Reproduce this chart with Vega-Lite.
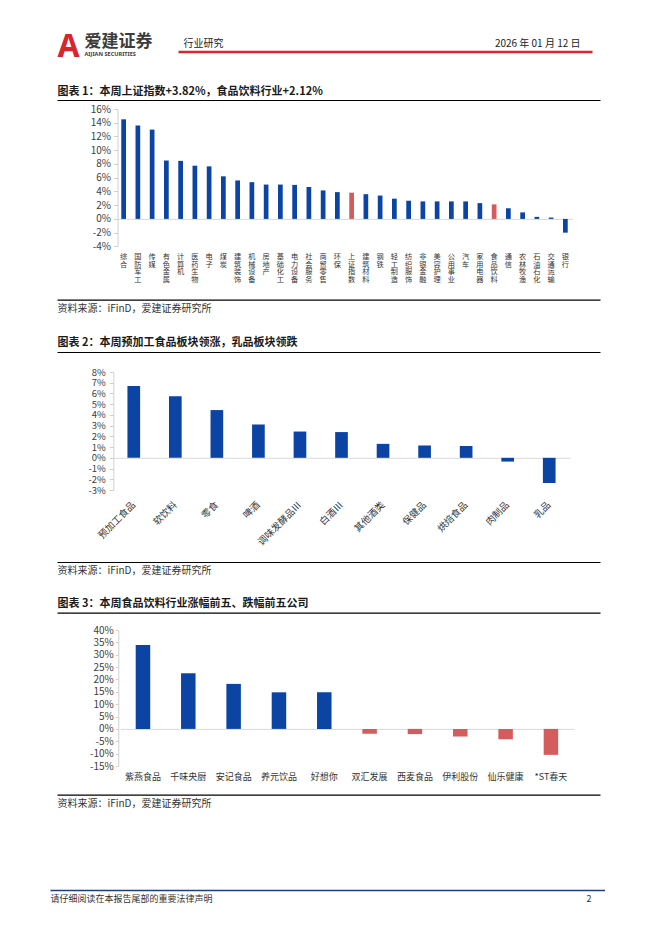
{
  "$schema": "https://vega.github.io/schema/vega-lite/v6.json",
  "background": "white",
  "padding": {"left": 50, "top": 0, "right": 0, "bottom": 0},
  "bounds": "flush",
  "spacing": 0,
  "config": {
    "view": {"stroke": null},
    "font": "Noto Sans CJK SC",
    "axis": {"labelFont": "Noto Sans CJK SC", "titleFont": "Noto Sans CJK SC", "grid": false, "titleLimit": 1000},
    "axisQuantitative": {"labelOverlap": false}
  },
  "datasets": {
    "industries": [
      {"name": "综合", "value": 14.5},
      {"name": "国防军工", "value": 13.6},
      {"name": "传媒", "value": 13.0},
      {"name": "有色金属", "value": 8.5},
      {"name": "计算机", "value": 8.45},
      {"name": "医药生物", "value": 7.75},
      {"name": "电子", "value": 7.65},
      {"name": "煤炭", "value": 6.2},
      {"name": "建筑装饰", "value": 5.6},
      {"name": "机械设备", "value": 5.35},
      {"name": "房地产", "value": 5.0},
      {"name": "基础化工", "value": 5.0},
      {"name": "电力设备", "value": 4.95},
      {"name": "社会服务", "value": 4.65},
      {"name": "商贸零售", "value": 4.15},
      {"name": "环保", "value": 3.9},
      {"name": "上证指数", "value": 3.82},
      {"name": "建筑材料", "value": 3.6},
      {"name": "钢铁", "value": 3.4},
      {"name": "轻工制造", "value": 2.95},
      {"name": "纺织服饰", "value": 2.65},
      {"name": "非银金融", "value": 2.55},
      {"name": "美容护理", "value": 2.55},
      {"name": "公用事业", "value": 2.55},
      {"name": "汽车", "value": 2.55},
      {"name": "家用电器", "value": 2.3},
      {"name": "食品饮料", "value": 2.12},
      {"name": "通信", "value": 1.55},
      {"name": "农林牧渔", "value": 0.95},
      {"name": "石油石化", "value": 0.3},
      {"name": "交通运输", "value": 0.2},
      {"name": "银行", "value": -2.0}
    ],
    "sectors": [
      {"name": "预加工食品", "value": 6.7},
      {"name": "软饮料", "value": 5.75},
      {"name": "零食", "value": 4.45},
      {"name": "啤酒", "value": 3.1},
      {"name": "调味发酵品Ⅲ", "value": 2.45},
      {"name": "白酒Ⅲ", "value": 2.4},
      {"name": "其他酒类", "value": 1.3},
      {"name": "保健品", "value": 1.15},
      {"name": "烘焙食品", "value": 1.1},
      {"name": "肉制品", "value": -0.35},
      {"name": "乳品", "value": -2.35}
    ],
    "companies": [
      {"name": "紫燕食品", "value": 33.9},
      {"name": "千味央厨", "value": 22.5},
      {"name": "安记食品", "value": 18.2},
      {"name": "养元饮品", "value": 14.8},
      {"name": "好想你", "value": 14.8},
      {"name": "双汇发展", "value": -2.0},
      {"name": "西麦食品", "value": -2.1},
      {"name": "伊利股份", "value": -3.1},
      {"name": "仙乐健康", "value": -4.2},
      {"name": "*ST春天", "value": -10.5}
    ]
  },
  "vconcat": [
    {"width": 1, "height": 28, "data": {"values": []}, "mark": "point"},
    {
      "width": 555, "height": 23.5,
      "data": {"values": [{}]},
      "resolve": {"axis": {"x": "independent", "y": "independent"}},
      "layer": [
        {"mark": {"type": "point", "opacity": 0},
         "encoding": {
           "x": {"datum": 0.5, "type": "quantitative", "scale": {"domain": [0, 1], "range": [128, 542]},
                 "axis": {"orient": "bottom", "domainColor": "#d9262c", "domainWidth": 2.5, "labels": false, "ticks": false, "minExtent": 0,
                          "title": "行业研究", "titleX": 133, "titleY": -5, "titleAlign": "left", "titleBaseline": "alphabetic", "titleFontSize": 10, "titleFontWeight": "normal", "titleColor": "#222222"}},
           "y": {"datum": 0, "type": "quantitative",
                 "axis": {"orient": "left", "domain": false, "labels": false, "ticks": false, "minExtent": 0,
                          "title": "2026 年 01 月 12 日", "titleAngle": 0, "titleX": 530, "titleY": 18.5, "titleAlign": "right", "titleBaseline": "alphabetic", "titleFontSize": 10, "titleFontWeight": "normal", "titleColor": "#222222"}}
         }},
        {"mark": {"type": "point", "opacity": 0},
         "encoding": {
           "x": {"datum": 0.5, "type": "quantitative",
                 "axis": {"orient": "top", "domain": false, "labels": false, "ticks": false, "minExtent": 0,
                          "title": "A", "titleX": 7, "titleY": 28, "titleAlign": "left", "titleBaseline": "alphabetic", "titleFontSize": 32, "titleFontWeight": "bold", "titleColor": "#d9262c", "titleFont": "Noto Sans"}},
           "y": {"datum": 0, "type": "quantitative",
                 "axis": {"orient": "right", "domain": false, "labels": false, "ticks": false, "minExtent": 0,
                          "title": "爱建证券", "titleAngle": 0, "titleX": -521, "titleY": 18.3, "titleAlign": "left", "titleBaseline": "alphabetic", "titleFontSize": 17, "titleFontWeight": "bold", "titleColor": "#3c3c3c"}}
         }},
        {"mark": {"type": "point", "opacity": 0},
         "encoding": {
           "x": {"datum": 0.5, "type": "quantitative", "axis": null},
           "y": {"datum": 0, "type": "quantitative",
                 "axis": {"orient": "left", "domain": false, "labels": false, "ticks": false, "minExtent": 0,
                          "title": "AIJIAN SECURITIES", "titleAngle": 0, "titleX": 34, "titleY": 27.5, "titleAlign": "left", "titleBaseline": "alphabetic", "titleFontSize": 5.6, "titleFontWeight": "bold", "titleColor": "#3c3c3c", "titleFont": "Noto Sans"}}
         }}
      ]
    },
    {"width": 1, "height": 56.8, "data": {"values": []}, "mark": "point"},
    {
      "width": 555, "height": 137.4,
      "data": {"name": "industries"},
      "resolve": {"scale": {"x": "independent"}, "axis": {"x": "independent"}},
      "encoding": {
        "y": {"field": "value", "type": "quantitative",
              "scale": {"domain": [-4, 16], "nice": false, "zero": false},
              "axis": {"orient": "left", "offset": -67.5, "title": null, "values": [-4, -2, 0, 2, 4, 6, 8, 10, 12, 14, 16], "labelExpr": "datum.value + '%'", "labelOverlap": false, "domainColor": "#d0d0d0", "tickColor": "#d0d0d0", "tickSize": 4, "labelPadding": 3, "labelFontSize": 10, "labelColor": "#404040", "minExtent": 0}}
      },
      "layer": [
        {"mark": {"type": "point", "opacity": 0},
         "encoding": {
           "x": {"field": "name", "type": "nominal", "sort": null,
                 "scale": {"range": [66.5, 522.5], "paddingInner": 0, "paddingOuter": 0},
                 "axis": {"orient": "top", "offset": -109.9, "domainColor": "#d9d9d9", "domainWidth": 1, "labels": false, "ticks": false, "title": null}}
         }},
        {"mark": {"type": "bar", "width": {"band": 0.33}},
         "encoding": {
           "x": {"field": "name", "type": "nominal", "sort": null,
                 "scale": {"range": [66.5, 522.5], "paddingInner": 0, "paddingOuter": 0},
                 "axis": {"orient": "bottom", "title": null, "domain": false, "ticks": false, "labelAngle": 0, "labelExpr": "split(datum.label, '')", "labelFontSize": 7.2, "labelLineHeight": 7.7, "labelBaseline": "top", "labelAlign": "center", "labelPadding": 6, "labelColor": "#333333", "labelOverlap": false}},
           "color": {"condition": {"test": "indexof(['上证指数','食品饮料'], datum.name) >= 0", "value": "#d55c5c"}, "value": "#0b44a3"}
         }},
        {"mark": {"type": "point", "opacity": 0},
         "encoding": {
           "x": {"datum": 0.5, "type": "quantitative", "scale": {"domain": [0, 1], "range": [7, 550]},
                 "axis": {"orient": "top", "offset": 9, "domainColor": "#000000", "domainWidth": 1.2, "labels": false, "ticks": false,
                          "title": "图表 1：本周上证指数+3.82%，食品饮料行业+2.12%", "titleX": 7, "titleY": -5.4, "titleAlign": "left", "titleBaseline": "alphabetic", "titleFontSize": 11, "titleFontWeight": "bold", "titleColor": "#1a1a1a"}}
         }},
        {"mark": {"type": "point", "opacity": 0},
         "encoding": {
           "x": {"datum": 0.5, "type": "quantitative", "scale": {"domain": [0, 1], "range": [7, 550]},
                 "axis": {"orient": "bottom", "offset": 53.3, "domainColor": "#000000", "domainWidth": 1.2, "labels": false, "ticks": false,
                          "title": "资料来源：iFinD，爱建证券研究所", "titleX": 7, "titleY": 11.5, "titleAlign": "left", "titleBaseline": "alphabetic", "titleFontSize": 10, "titleFontWeight": "normal", "titleColor": "#333333"}}
         }}
      ]
    },
    {"width": 1, "height": 124.3, "data": {"values": []}, "mark": "point"},
    {
      "width": 555, "height": 118,
      "data": {"name": "sectors"},
      "resolve": {"scale": {"x": "independent"}, "axis": {"x": "independent"}},
      "encoding": {
        "y": {"field": "value", "type": "quantitative",
              "scale": {"domain": [-3, 8], "nice": false, "zero": false},
              "axis": {"orient": "left", "offset": -63.3, "title": null, "values": [-3, -2, -1, 0, 1, 2, 3, 4, 5, 6, 7, 8], "labelExpr": "datum.value + '%'", "labelOverlap": false, "domainColor": "#d0d0d0", "tickColor": "#d0d0d0", "tickSize": 4, "labelPadding": 4, "labelFontSize": 9.5, "labelColor": "#404040", "minExtent": 0}}
      },
      "layer": [
        {"mark": {"type": "point", "opacity": 0},
         "encoding": {
           "x": {"field": "name", "type": "nominal", "sort": null,
                 "scale": {"range": [63, 520], "paddingInner": 0, "paddingOuter": 0},
                 "axis": {"orient": "top", "offset": -85.8, "domainColor": "#d9d9d9", "domainWidth": 1, "labels": false, "ticks": false, "title": null}}
         }},
        {"mark": {"type": "bar", "width": {"band": 0.305}, "color": "#0b44a3"},
         "encoding": {
           "x": {"field": "name", "type": "nominal", "sort": null,
                 "scale": {"range": [63, 520], "paddingInner": 0, "paddingOuter": 0},
                 "axis": {"orient": "bottom", "title": null, "domain": false, "ticks": false, "labelAngle": -45, "labelAlign": "right", "labelBaseline": "middle", "labelFontSize": 9.5, "labelPadding": 13, "labelColor": "#333333", "labelOverlap": false}}
         }},
        {"mark": {"type": "point", "opacity": 0},
         "encoding": {
           "x": {"datum": 0.5, "type": "quantitative", "scale": {"domain": [0, 1], "range": [7, 550]},
                 "axis": {"orient": "top", "offset": 20, "domainColor": "#000000", "domainWidth": 1.2, "labels": false, "ticks": false,
                          "title": "图表 2：本周预加工食品板块领涨，乳品板块领跌", "titleX": 7, "titleY": -6.2, "titleAlign": "left", "titleBaseline": "alphabetic", "titleFontSize": 11, "titleFontWeight": "bold", "titleColor": "#1a1a1a"}}
         }},
        {"mark": {"type": "point", "opacity": 0},
         "encoding": {
           "x": {"datum": 0.5, "type": "quantitative", "scale": {"domain": [0, 1], "range": [7, 550]},
                 "axis": {"orient": "bottom", "offset": 72, "domainColor": "#000000", "domainWidth": 1.2, "labels": false, "ticks": false,
                          "title": "资料来源：iFinD，爱建证券研究所", "titleX": 7, "titleY": 11.5, "titleAlign": "left", "titleBaseline": "alphabetic", "titleFontSize": 10, "titleFontWeight": "normal", "titleColor": "#333333"}}
         }}
      ]
    },
    {"width": 1, "height": 139.3, "data": {"values": []}, "mark": "point"},
    {
      "width": 555, "height": 136,
      "data": {"name": "companies"},
      "resolve": {"scale": {"x": "independent"}, "axis": {"x": "independent"}},
      "encoding": {
        "y": {"field": "value", "type": "quantitative",
              "scale": {"domain": [-15, 40], "nice": false, "zero": false},
              "axis": {"orient": "left", "offset": -68.3, "title": null, "values": [-15, -10, -5, 0, 5, 10, 15, 20, 25, 30, 35, 40], "labelExpr": "datum.value + '%'", "labelOverlap": false, "domainColor": "#d0d0d0", "tickColor": "#d0d0d0", "tickSize": 3, "labelPadding": 2, "labelFontSize": 10, "labelColor": "#404040", "minExtent": 0}}
      },
      "layer": [
        {"mark": {"type": "point", "opacity": 0},
         "encoding": {
           "x": {"field": "name", "type": "nominal", "sort": null,
                 "scale": {"range": [70.3, 523.6], "paddingInner": 0, "paddingOuter": 0},
                 "axis": {"orient": "top", "offset": -98.9, "domainColor": "#d9d9d9", "domainWidth": 1, "labels": false, "ticks": false, "title": null}}
         }},
        {"mark": {"type": "bar", "width": {"band": 0.32}},
         "encoding": {
           "x": {"field": "name", "type": "nominal", "sort": null,
                 "scale": {"range": [70.3, 523.6], "paddingInner": 0, "paddingOuter": 0},
                 "axis": {"orient": "bottom", "title": null, "domain": false, "ticks": false, "labelAngle": 0, "labelAlign": "center", "labelBaseline": "top", "labelFontSize": 9, "labelPadding": 6, "labelColor": "#333333", "labelOverlap": false}},
           "color": {"condition": {"test": "datum.value < 0", "value": "#d55c5c"}, "value": "#0b44a3"}
         }},
        {"mark": {"type": "point", "opacity": 0},
         "encoding": {
           "x": {"datum": 0.5, "type": "quantitative", "scale": {"domain": [0, 1], "range": [7, 550]},
                 "axis": {"orient": "top", "offset": 17.3, "domainColor": "#000000", "domainWidth": 1.2, "labels": false, "ticks": false,
                          "title": "图表 3：本周食品饮料行业涨幅前五、跌幅前五公司", "titleX": 7, "titleY": -6.2, "titleAlign": "left", "titleBaseline": "alphabetic", "titleFontSize": 11, "titleFontWeight": "bold", "titleColor": "#1a1a1a"}}
         }},
        {"mark": {"type": "point", "opacity": 0},
         "encoding": {
           "x": {"datum": 0.5, "type": "quantitative", "scale": {"domain": [0, 1], "range": [7, 550]},
                 "axis": {"orient": "bottom", "offset": 28.7, "domainColor": "#000000", "domainWidth": 1.2, "labels": false, "ticks": false,
                          "title": "资料来源：iFinD，爱建证券研究所", "titleX": 7, "titleY": 11.5, "titleAlign": "left", "titleBaseline": "alphabetic", "titleFontSize": 10, "titleFontWeight": "normal", "titleColor": "#333333"}}
         }}
      ]
    },
    {"width": 1, "height": 122.7, "data": {"values": []}, "mark": "point"},
    {
      "width": 555, "height": 1,
      "data": {"values": [{}]},
      "mark": {"type": "point", "opacity": 0},
      "encoding": {
        "x": {"datum": 0.5, "type": "quantitative", "scale": {"domain": [0, 1]},
              "axis": {"orient": "bottom", "domainColor": "#1f3f77", "domainWidth": 1.5, "labels": false, "ticks": false, "minExtent": 0,
                       "title": "请仔细阅读在本报告尾部的重要法律声明", "titleX": 0, "titleY": 11, "titleAlign": "left", "titleBaseline": "alphabetic", "titleFontSize": 9, "titleFontWeight": "normal", "titleColor": "#333333"}},
        "y": {"datum": 0, "type": "quantitative",
              "axis": {"orient": "left", "domain": false, "labels": false, "ticks": false, "minExtent": 0,
                       "title": "2", "titleAngle": 0, "titleX": 541, "titleY": 12, "titleAlign": "right", "titleBaseline": "alphabetic", "titleFontSize": 9, "titleFontWeight": "normal", "titleColor": "#333333"}}
      }
    },
    {"width": 1, "height": 48, "data": {"values": []}, "mark": "point"}
  ]
}
